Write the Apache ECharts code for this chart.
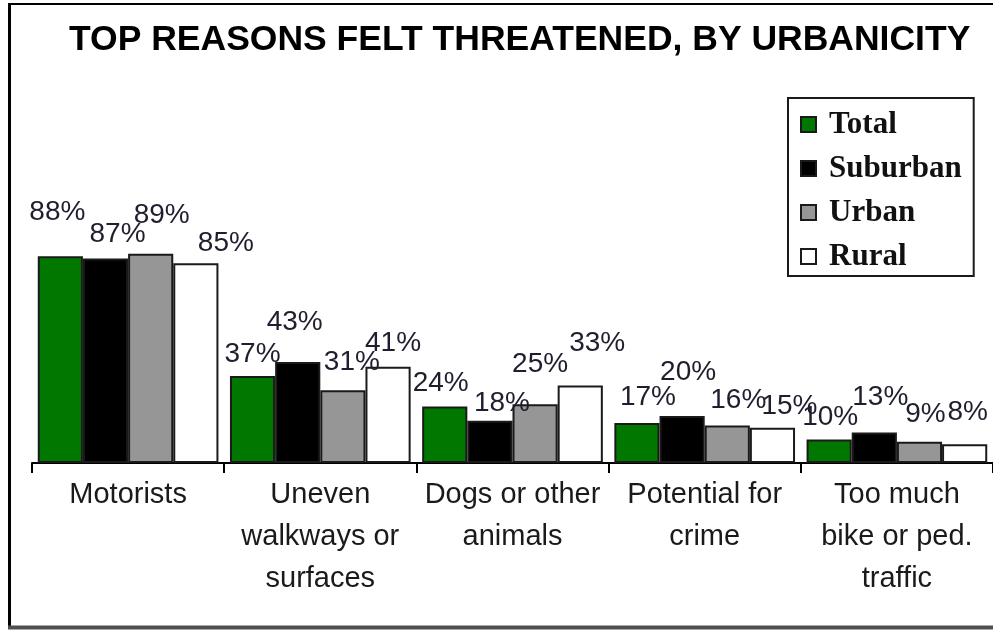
<!DOCTYPE html>
<html>
<head>
<meta charset="utf-8">
<script src="https://cdn.jsdelivr.net/npm/echarts@6/dist/echarts.min.js"></script>
<style>
html,body{margin:0;padding:0;background:#fff;}
#c{width:993px;height:630px;}
</style>
</head>
<body>
<div id="c"></div>
<script>
const categories = ['Motorists', 'Uneven\nwalkways or\nsurfaces', 'Dogs or other\nanimals', 'Potential for\ncrime', 'Too much\nbike or ped.\ntraffic'];
const seriesNames = ['Total', 'Suburban', 'Urban', 'Rural'];
const total = [88, 37, 24, 17, 10];
const suburban = [87, 43, 18, 20, 13];
const urban = [89, 31, 25, 16, 9];
const rural = [85, 41, 33, 15, 8];

// layout: label nudges (dx, dy) reproducing the reference's label placement
const labelDx = [[-3, 0, -4, 11, 1], [12, -3, 12, 6, 6], [11, 9, 5, 11, 6], [30, 5, 17, 17, 3]];
const labelDy = [[-30, -8, -9, -12, -8], [-10, -26, -3, -30, -21], [-25, -14, -26, -11, -14], [-6, -9, -28, -7, -18]];
const colors = ['#007800', '#000000', '#969696', '#ffffff'];

const values = [total, suburban, urban, rural];
const chart = echarts.init(document.getElementById('c'));

const series = values.map((arr, si) => ({
  name: seriesNames[si],
  type: 'bar',
  barGap: '0%',
  barCategoryGap: '6%',
  itemStyle: { color: colors[si], borderColor: '#1a1a1a', borderWidth: 2 },
  label: {
    show: true, position: 'top', distance: 0,
    formatter: '{c}%',
    fontFamily: 'Liberation Sans, Arial, sans-serif',
    fontSize: 28, color: '#1e1e2e'
  },
  data: arr.map((v, i) => ({ value: v, label: { offset: [labelDx[si][i], labelDy[si][i]] } }))
}));

chart.setOption({
  animation: false,
  backgroundColor: '#fff',
  title: {
    text: 'TOP REASONS FELT THREATENED, BY URBANICITY',
    left: 64, top: 17,
    textStyle: { fontFamily: 'Liberation Sans, Arial, sans-serif', fontWeight: 'bold', fontSize: 35.5, color: '#000' }
  },
  legend: {
    orient: 'vertical', left: 788, top: 98,
    data: seriesNames,
    icon: 'rect', itemWidth: 15, itemHeight: 15, itemGap: 13,
    borderColor: '#1a1a1a', borderWidth: 2, padding: [11, 12, 4, 12],
    textStyle: { fontFamily: 'Liberation Serif, Times New Roman, serif', fontWeight: 'bold', fontSize: 31, lineHeight: 30, color: '#111', padding: [0, 0, 0, 8] }
  },
  grid: { left: 32, right: 0, top: 228, bottom: 167, containLabel: false },
  xAxis: {
    type: 'category', data: categories,
    axisLine: { lineStyle: { color: '#000', width: 2 } },
    axisTick: { show: true, inside: false, length: 10, lineStyle: { color: '#000', width: 2 } },
    axisLabel: { interval: 0, margin: 11, fontFamily: 'Liberation Sans, Arial, sans-serif', fontSize: 29, lineHeight: 42, color: '#1a1a1a' }
  },
  yAxis: { type: 'value', min: 0, max: 100, show: false, splitLine: { show: false } },
  graphic: [
    { type: 'line', shape: { x1: 9, y1: 4, x2: 993, y2: 4 }, style: { stroke: '#000', lineWidth: 2 } },
    { type: 'line', shape: { x1: 9.5, y1: 3, x2: 9.5, y2: 627 }, style: { stroke: '#000', lineWidth: 3 } },
    { type: 'line', shape: { x1: 8, y1: 627.5, x2: 993, y2: 627.5 }, style: { stroke: '#505050', lineWidth: 4 } }
  ],
  series: series
});
</script>
</body>
</html>
